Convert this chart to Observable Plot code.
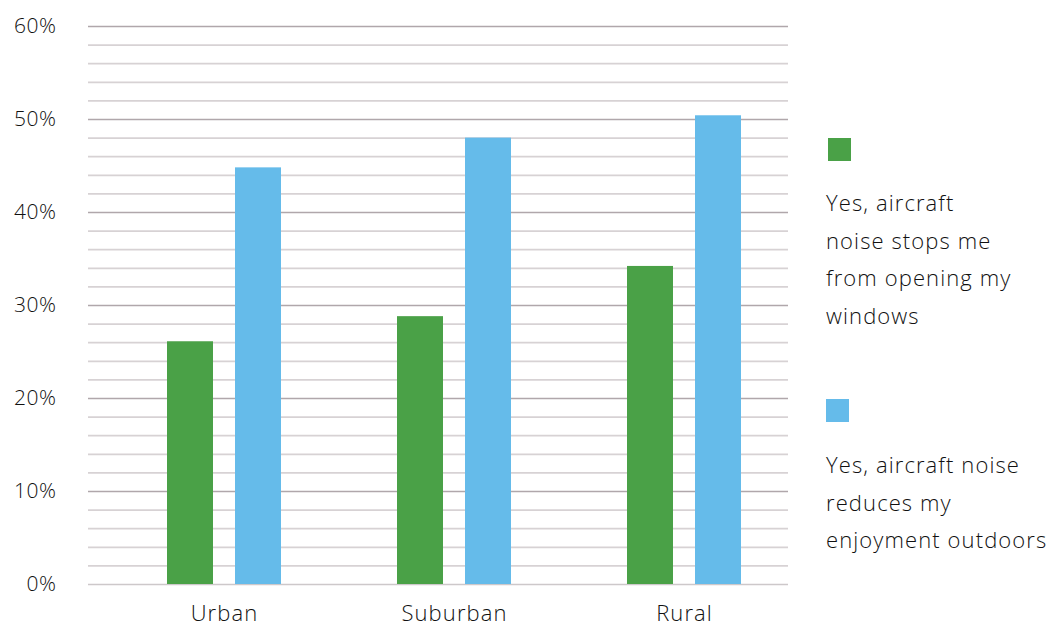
<!DOCTYPE html>
<html>
<head>
<meta charset="utf-8">
<script src="https://cdn.jsdelivr.net/npm/d3@7"></script>
<script src="https://cdn.jsdelivr.net/npm/@observablehq/plot@0.6"></script>
<style>
  html, body { margin: 0; padding: 0; background: #fff; }
  #wrap { position: relative; width: 1063px; height: 626px; font-family: "Open Sans", sans-serif; font-weight: 300; color: #111; }
  #legend { position: absolute; left: 826px; top: 0; font-size: 22px; line-height: 37.5px; letter-spacing: 1.1px; }
  .item { position: absolute; left: 0; width: 240px; white-space: nowrap; }
  .swatch { width: 23px; height: 23px; }
  svg text { letter-spacing: 0.5px; }
  svg g[aria-label="x-axis tick label"] text { font-size: 22px; letter-spacing: 1.1px; }
</style>
</head>
<body>
<div id="wrap"></div>
<script>
// Share of respondents by area type
const areas = ["Urban", "Suburban", "Rural"];
const stopsWindows = [26.1, 28.8, 34.2];   // noise stops me opening windows
const reducesOutdoors = [44.8, 48.0, 50.4]; // noise reduces enjoyment outdoors
const seriesNames = [
  "Yes, aircraft noise stops me from opening my windows",
  "Yes, aircraft noise reduces my enjoyment outdoors"
];
const seriesColors = ["#4aa147", "#65bbea"];
const majorTicks = [0, 10, 20, 30, 40, 50, 60];
const minorTicks = [2, 4, 6, 8, 12, 14, 16, 18, 22, 24, 26, 28, 32, 34, 36, 38, 42, 44, 46, 48, 52, 54, 56, 58];

const rows = areas.flatMap((a, i) => [
  {area: a, series: seriesNames[0], value: stopsWindows[i]},
  {area: a, series: seriesNames[1], value: reducesOutdoors[i]}
]);

const chart = Plot.plot({
  width: 1063,
  height: 626,
  marginLeft: 88,
  marginRight: 275,
  marginTop: 26,
  marginBottom: 42,
  style: {fontFamily: "Open Sans, sans-serif", fontWeight: 300, fontSize: "21px", color: "#111", background: "#fff"},
  x: {domain: areas, range: [109, 799], padding: 0, label: null, tickSize: 0, tickPadding: 21},
  y: {domain: [0, 60], ticks: majorTicks, tickFormat: d => d + "%", tickSize: 0, tickPadding: 32, label: null},
  color: {domain: seriesNames, range: seriesColors},
  marks: [
    Plot.ruleY(minorTicks, {stroke: "#d7d2d4", strokeWidth: 1.7}),
    Plot.ruleY(majorTicks.filter(d => d > 0), {stroke: "#b0a7ab", strokeWidth: 1.7}),
    Plot.ruleY([0], {stroke: "#cdc8ca", strokeWidth: 1.7}),
    Plot.barY(rows.filter(d => d.series === seriesNames[0]), {x: "area", y: "value", fill: "series", insetLeft: 58, insetRight: 126}),
    Plot.barY(rows.filter(d => d.series === seriesNames[1]), {x: "area", y: "value", fill: "series", insetLeft: 126, insetRight: 58})
  ]
});
chart.style.position = "absolute";
chart.style.left = "0";
chart.style.top = "0";
const wrap = document.getElementById("wrap");
wrap.appendChild(chart);

// Legend at the right, one swatch above each wrapped label
const legend = document.createElement("div");
legend.id = "legend";
const legendItems = [
  {lines: ["Yes, aircraft", "noise stops me", "from opening my", "windows"], swatchTop: 138, textTop: 184, dx: 2},
  {lines: ["Yes, aircraft noise", "reduces my", "enjoyment outdoors"], swatchTop: 399, textTop: 446, dx: 0}
];
legendItems.forEach((it, i) => {
  const sw = document.createElement("div");
  sw.className = "item swatch";
  sw.style.top = it.swatchTop + "px";
  sw.style.left = it.dx + "px";
  sw.style.background = seriesColors[i];
  legend.appendChild(sw);
  const tx = document.createElement("div");
  tx.className = "item";
  tx.style.top = it.textTop + "px";
  tx.innerHTML = it.lines.join("<br>");
  legend.appendChild(tx);
});
wrap.appendChild(legend);
</script>
</body>
</html>
